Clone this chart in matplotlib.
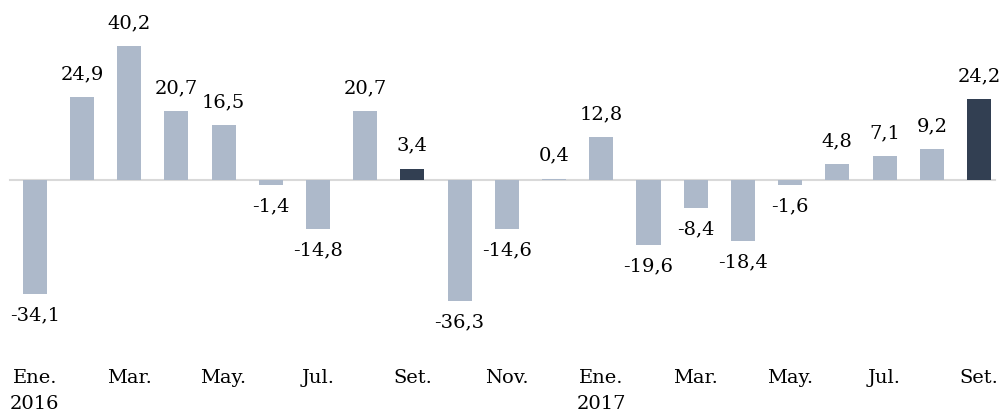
import matplotlib
matplotlib.use("Agg")
import matplotlib.pyplot as plt

months = ["Ene.", "Feb.", "Mar.", "Abr.", "May.", "Jun.", "Jul.", "Ago.", "Set.", "Oct.", "Nov.", "Dic.",
          "Ene.", "Feb.", "Mar.", "Abr.", "May.", "Jun.", "Jul.", "Ago.", "Set."]
years = {0: "2016", 12: "2017"}
values = [-34.1, 24.9, 40.2, 20.7, 16.5, -1.4, -14.8, 20.7, 3.4, -36.3, -14.6, 0.4,
          12.8, -19.6, -8.4, -18.4, -1.6, 4.8, 7.1, 9.2, 24.2]
highlight = [8, 20]

light = "#ADB9CA"
dark = "#323F52"
plt.rcParams['font.family'] = ['DejaVu Serif']

fig = plt.figure(figsize=(10.01, 4.12), dpi=100)
ax = fig.add_axes([0, (412 - 340) / 412, 1, 340 / 412])
x = list(range(len(values)))
colors = [dark if i in highlight else light for i in x]
ax.bar(x, values, width=0.51, color=colors, zorder=2)
ax.plot([-0.52, 20.33], [0, 0], color="#D9D9D9", lw=1.5, zorder=1)

for i, v in zip(x, values):
    lab = f"{v:.1f}".replace(".", ",")
    if v >= 0:
        ax.annotate(lab, (i, v), xytext=(0, 10), textcoords="offset points",
                    ha="center", va="bottom", fontsize=14)
    else:
        ax.annotate(lab, (i, v), xytext=(0, -9), textcoords="offset points",
                    ha="center", va="top", fontsize=14)

ticks = x[::2]
labels = [months[i] + ("\n" + years[i] if i in years else "") for i in ticks]
ax.set_xticks(ticks)
ax.set_xticklabels(labels, fontsize=14, linespacing=1.55)
ax.tick_params(axis="x", length=0, pad=21)
for lbl in ax.get_xticklabels():
    lbl.set_verticalalignment("top")
ax.set_yticks([])
ax.set_xlim(-34.7 / 47.2, 20 + 22 / 47.2)
ax.set_ylim(-160 / 3.33, 180 / 3.33)
for s in ax.spines.values():
    s.set_visible(False)
fig.savefig("out.png", dpi=100)
